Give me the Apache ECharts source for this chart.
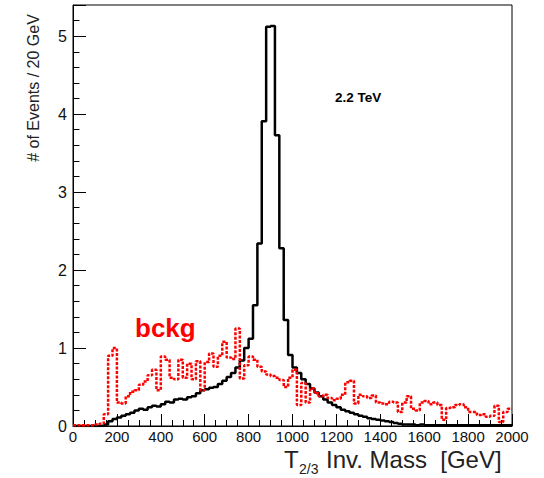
<!DOCTYPE html>
<html><head><meta charset="utf-8">
<script src="https://cdn.jsdelivr.net/npm/echarts@6/dist/echarts.min.js"></script>
<style>html,body{margin:0;padding:0;background:#fff}#c{width:544px;height:478px}</style>
</head><body><div id="c"></div>
<script>
// bin width 20 GeV, 100 bins from 0 to 2000 GeV
const binWidth = 20;
const signal = [
  0, 0, 0, 0, 0, 0, 0, 0.02, 0.06, 0.09,
  0.11, 0.13, 0.15, 0.17, 0.20, 0.22, 0.21, 0.24, 0.26, 0.25,
  0.28, 0.31, 0.30, 0.34, 0.35, 0.34, 0.37, 0.38, 0.42, 0.46,
  0.47, 0.49, 0.50, 0.54, 0.58, 0.63, 0.68, 0.75, 0.84, 1.00,
  1.12, 1.55, 2.34, 3.91, 5.12, 5.13, 3.73, 2.28, 1.36, 0.91,
  0.75, 0.68, 0.60, 0.54, 0.48, 0.43, 0.38, 0.34, 0.30, 0.27,
  0.24, 0.21, 0.19, 0.17, 0.15, 0.13, 0.12, 0.10, 0.09, 0.08,
  0.07, 0.06, 0.05, 0.04, 0.03, 0.02, 0.02, 0.02, 0.01, 0.02,
  0.01, 0.01, 0.01, 0.01, 0.01, 0.01, 0.01, 0.01, 0.01, 0.01,
  0.01, 0.01, 0.01, 0.01, 0.01, 0.01, 0.01, 0.01, 0.01, 0.01
];
const bckg = [
  0.01, 0.01, 0.01, 0.01, 0.01, 0.02, 0.03, 0.15, 0.90, 1.00,
  0.30, 0.29, 0.38, 0.44, 0.46, 0.53, 0.57, 0.65, 0.72, 0.46,
  0.89, 0.85, 0.62, 0.60, 0.85, 0.62, 0.80, 0.60, 0.83, 0.46,
  0.82, 0.93, 0.76, 0.90, 1.08, 0.88, 0.86, 1.25, 0.61, 0.78,
  0.89, 0.85, 0.76, 0.70, 0.66, 0.64, 0.62, 0.59, 0.50, 0.62,
  0.72, 0.27, 0.55, 0.30, 0.48, 0.42, 0.38, 0.40, 0.36, 0.33,
  0.35, 0.40, 0.56, 0.58, 0.29, 0.40, 0.38, 0.36, 0.39, 0.30,
  0.29, 0.28, 0.31, 0.30, 0.18, 0.30, 0.38, 0.22, 0.20, 0.30,
  0.32, 0.28, 0.30, 0.27, 0.08, 0.23, 0.24, 0.27, 0.28, 0.24,
  0.18, 0.18, 0.14, 0.15, 0.12, 0.13, 0.26, 0.05, 0.18, 0.22
];
const xAxisRange = [0, 2000];
const yAxisRange = [0, 5.4];
const bckgLabel = 'bckg';
const energyLabel = '2.2 TeV';
const yTitle = '# of Events / 20 GeV';
const xTitleMain = 'T';
const xTitleSub = '2/3';
const xTitleRest = 'Inv. Mass  [GeV]';

function toSteps(vals) {
  const pts = vals.map((v, i) => [i * binWidth, v]);
  pts.push([vals.length * binWidth, vals[vals.length - 1]]);
  return pts;
}

const chart = echarts.init(document.getElementById('c'), null, {renderer: 'svg'});
const FONT = 'Liberation Sans, Arial, Helvetica, sans-serif';
chart.setOption({
  backgroundColor: '#fff',
  animation: false,
  grid: {left: 73, right: 32, top: 5, bottom: 52, show: true, borderColor: '#000', borderWidth: 1, backgroundColor: 'transparent'},
  xAxis: {
    type: 'value', min: xAxisRange[0], max: xAxisRange[1], interval: 200,
    axisLine: {show: true, onZero: false, lineStyle: {color: '#000', width: 1}},
    axisTick: {show: true, inside: true, length: 12, lineStyle: {color: '#000', width: 1}},
    minorTick: {show: true, splitNumber: 4, length: 6, lineStyle: {color: '#000', width: 1}},
    splitLine: {show: false},
    axisLabel: {color: '#111', fontSize: 15, fontFamily: FONT, margin: 3, formatter: v => String(v)}
  },
  yAxis: {
    type: 'value', min: yAxisRange[0], max: yAxisRange[1], interval: 1,
    axisLine: {show: true, lineStyle: {color: '#000', width: 1}},
    axisTick: {show: true, inside: true, length: 13, lineStyle: {color: '#000', width: 1}},
    minorTick: {show: true, splitNumber: 5, length: 6.5, lineStyle: {color: '#000', width: 1}},
    splitLine: {show: false},
    axisLabel: {color: '#111', fontSize: 16, fontFamily: FONT, margin: 6, showMaxLabel: false}
  },
  series: [
    {type: 'line', step: 'end', data: toSteps(signal), symbol: 'none',
     lineStyle: {color: '#000', width: 2.5}, z: 3},
    {type: 'line', step: 'end', data: toSteps(bckg), symbol: 'none',
     lineStyle: {color: '#ff0000', width: 2.5, type: [3, 1.5]}, z: 4}
  ],
  graphic: [
    {type: 'text', x: 33, y: 88, rotation: Math.PI / 2,
     style: {text: yTitle, font: '16px ' + FONT, fill: '#222', align: 'center', verticalAlign: 'middle'}},
    {type: 'text', x: 284, y: 447,
     style: {text: xTitleMain, font: '24px ' + FONT, fill: '#222', align: 'left', verticalAlign: 'top'}},
    {type: 'text', x: 299, y: 462,
     style: {text: xTitleSub, font: '14px ' + FONT, fill: '#222', align: 'left', verticalAlign: 'top'}},
    {type: 'text', x: 326, y: 447,
     style: {text: xTitleRest, font: '24px ' + FONT, fill: '#222', align: 'left', verticalAlign: 'top'}},
    {type: 'text', x: 135, y: 315,
     style: {text: bckgLabel, font: 'bold 26px ' + FONT, fill: '#ff0000', align: 'left', verticalAlign: 'top'}},
    {type: 'text', x: 335, y: 97,
     style: {text: energyLabel, font: 'bold 13.5px ' + FONT, fill: '#000', align: 'left', verticalAlign: 'middle'}}
  ]
});
</script></body></html>
